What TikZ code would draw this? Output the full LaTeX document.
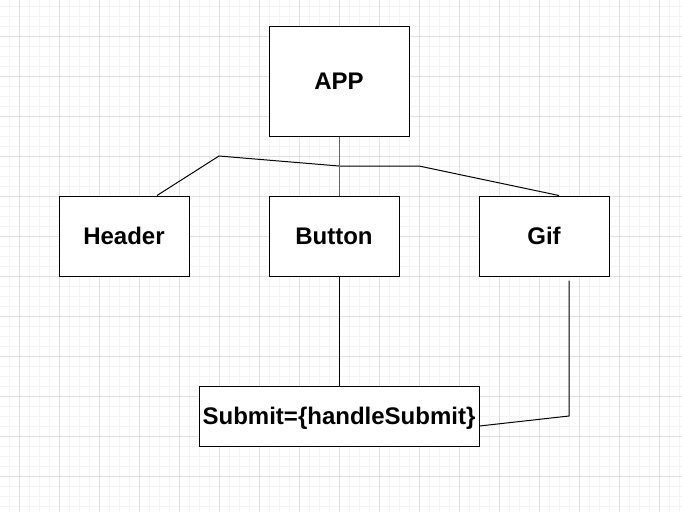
\documentclass[tikz,border=0pt]{standalone}
\usepackage{fontspec}
\setmainfont{Liberation Sans}
\definecolor{gridminor}{HTML}{F4F4F4}
\definecolor{gridmajor}{HTML}{E0E0E0}
\tikzstyle{minor}=[gridminor, line width=1pt]
\tikzstyle{major}=[gridmajor, line width=1pt]
\tikzstyle{box}=[draw, fill=white, line width=1pt, inner sep=0pt,
  text height=17pt, text depth=0pt, font=\bfseries\fontsize{24}{28}\selectfont]
\tikzstyle{link}=[line width=1pt]

\begin{document}
\begin{tikzpicture}[x=1pt, y=-1pt]
  \useasboundingbox (0,0) rectangle (682,512);
  \foreach \i in {0,...,68}
    \draw[minor] (10*\i-1,0) -- (10*\i-1,512);
  \foreach \j in {0,...,50}
    \draw[minor] (0,10*\j+6) -- (682,10*\j+6);
  \foreach \i in {0,...,16}
    \draw[major] (40*\i+19,0) -- (40*\i+19,512);
  \foreach \j in {0,...,11}
    \draw[major] (0,40*\j+36) -- (682,40*\j+36);

  \node[box, minimum width=140pt, minimum height=110pt] (app) at (339,81) {APP};
  \node[box, minimum width=130pt, minimum height=80pt] (header) at (124,236) {Header};
  \node[box, minimum width=130pt, minimum height=80pt] (button) at (334,236) {Button};
  \node[box, minimum width=130pt, minimum height=80pt] (gif) at (544,236) {Gif};
  \node[box, minimum width=280pt, minimum height=60pt] (submit) at (339,416) {Submit=\{handleSubmit\}};

  \coordinate (kneeL) at (219,156);
  \coordinate (kneeM) at (339,166);
  \coordinate (kneeR) at (419,166);
  \coordinate (gifEnd) at ([xshift=25pt, yshift=-4pt]gif.south);

  \draw[link] ([xshift=33pt]header.north)
    -- (kneeL) -- (kneeM) -- (kneeR)
    -- ([xshift=15pt]gif.north);
  \draw[link, black!60] (app.south) -- (app.south |- button.north);
  \draw[link] (submit.north |- button.south) -- (submit.north);
  \draw[link] (gifEnd) -- (gifEnd |- submit.center)
    -- ([yshift=-10pt]submit.east);
\end{tikzpicture}
\end{document}
